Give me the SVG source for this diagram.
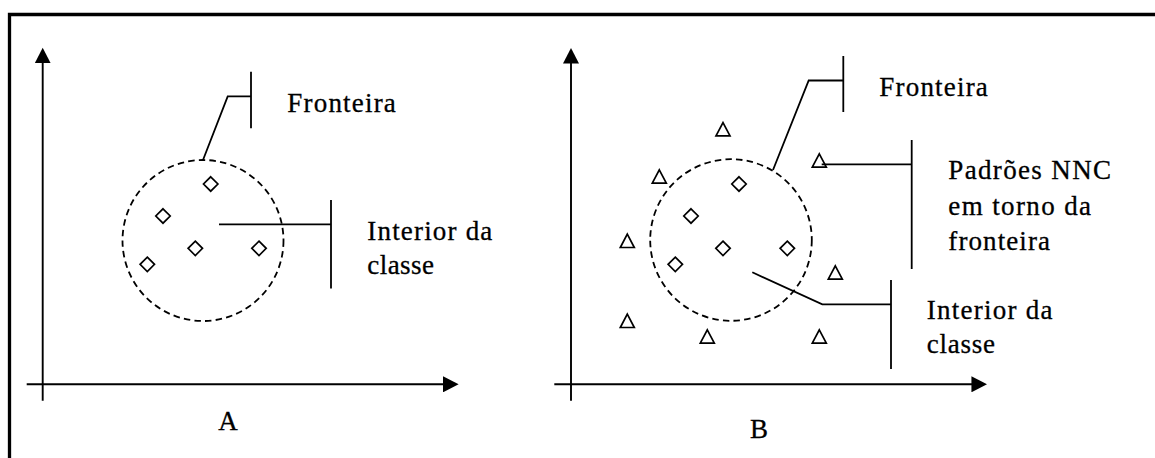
<svg xmlns="http://www.w3.org/2000/svg" width="1155" height="458" viewBox="0 0 1155 458">
<style>
.ln{fill:none;stroke:#000;stroke-width:1.8}
.ax{fill:none;stroke:#000;stroke-width:1.9}
.bd{fill:none;stroke:#000;stroke-width:3.3}
.dc{fill:none;stroke:#000;stroke-width:1.8;stroke-dasharray:6.5 4.2}
.sym{fill:#fff;stroke:#000;stroke-width:1.7}
.lbl{font-family:"Liberation Serif","Times New Roman",serif;font-size:27px;fill:#000;stroke:#000;stroke-width:0.3}
</style>
<defs>
<marker id="arr" markerUnits="userSpaceOnUse" markerWidth="16" markerHeight="16" viewBox="0 0 15 15.4" refX="7" refY="7.7" orient="auto">
<path d="M0,0 L15,7.7 L0,15.4 Z" fill="#000"/>
</marker>
<path id="dia" d="M0,-7.2 L7.2,0 L0,7.2 L-7.2,0 Z"/>
<path id="tri" d="M0,-13.3 L7,0 L-7,0 Z"/>
</defs>
<rect width="1155" height="458" fill="#fff"/>
<g id="frame">
<path class="bd" d="M9.5,458 V14.5 H1155"/>
</g>
<g id="axesA">
<path class="ax" d="M42.7,400.7 V56" marker-end="url(#arr)"/>
<path class="ax" d="M26.7,384.3 H450.3" marker-end="url(#arr)"/>
</g>
<g id="axesB">
<path class="ax" d="M571,400.7 V56.3" marker-end="url(#arr)"/>
<path class="ax" d="M554.3,384.3 H978.7" marker-end="url(#arr)"/>
</g>
<g id="classA">
<circle class="dc" cx="203" cy="240.5" r="80.5"/>
<use href="#dia" class="sym" x="210.7" y="184"/>
<use href="#dia" class="sym" x="163" y="216"/>
<use href="#dia" class="sym" x="195.3" y="248.3"/>
<use href="#dia" class="sym" x="259" y="248.3"/>
<use href="#dia" class="sym" x="147.3" y="264.3"/>
</g>
<g id="classB">
<circle class="dc" cx="731" cy="240" r="80.8"/>
<use href="#dia" class="sym" x="739" y="184"/>
<use href="#dia" class="sym" x="691" y="216"/>
<use href="#dia" class="sym" x="723" y="248.3"/>
<use href="#dia" class="sym" x="787.3" y="248.3"/>
<use href="#dia" class="sym" x="675.3" y="264.3"/>
</g>
<g id="nncB">
<use href="#tri" class="sym" x="723" y="135.9"/>
<use href="#tri" class="sym" x="659.3" y="183.2"/>
<use href="#tri" class="sym" x="819.3" y="167.2"/>
<use href="#tri" class="sym" x="627.3" y="247.5"/>
<use href="#tri" class="sym" x="835.3" y="279.2"/>
<use href="#tri" class="sym" x="627.3" y="327.5"/>
<use href="#tri" class="sym" x="707.3" y="343.2"/>
<use href="#tri" class="sym" x="819.3" y="343.2"/>
</g>
<g id="connectors">
<path class="ln" d="M203,160 L227.7,96.3 H251"/>
<path class="ln" d="M251,71.7 V128.3"/>
<path class="ln" d="M219,224.3 H331"/>
<path class="ln" d="M331,200 V288.5"/>
<path class="ln" d="M773,170 L808.7,80.5 H843.3"/>
<path class="ln" d="M843.3,56 V112"/>
<path class="ln" d="M821.7,164.3 H911.7"/>
<path class="ln" d="M911.7,140 V269"/>
<path class="ln" d="M752.3,272.3 L822.3,304.3 H891"/>
<path class="ln" d="M891,280 V369"/>
</g>
<g id="labelsA" class="lbl" font-family="'Liberation Serif', 'Times New Roman', serif" font-size="27">
<text x="287.3" y="112.3" textLength="108.5">Fronteira</text>
<text x="367.3" y="239.7" textLength="125">Interior da</text>
<text x="367.3" y="273.7" textLength="66.7">classe</text>
<text x="218.3" y="429.5">A</text>
</g>
<g id="labelsB" class="lbl" font-family="'Liberation Serif', 'Times New Roman', serif" font-size="27">
<text x="879.3" y="95.7" textLength="108.5">Fronteira</text>
<text x="948.3" y="179.3" textLength="162.7">Padrões NNC</text>
<text x="948.3" y="215" textLength="142.7">em torno da</text>
<text x="948.3" y="250" textLength="101.7">fronteira</text>
<text x="926.7" y="319.3" textLength="125.7">Interior da</text>
<text x="926.7" y="353.3" textLength="68.3">classe</text>
<text x="750" y="437.7">B</text>
</g>
</svg>
